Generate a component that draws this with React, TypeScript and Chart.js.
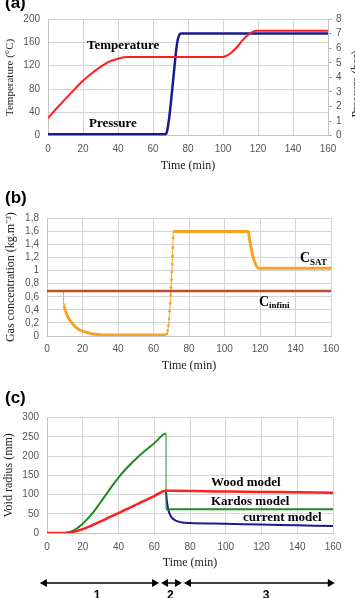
import React, { useEffect, useRef } from 'react';
import { Chart, registerables } from 'chart.js';
Chart.register(...registerables);

const SANS = '"Liberation Sans", Arial, sans-serif';
const SERIF = '"Liberation Serif", "Times New Roman", serif';
const GRID = '#d4d4d4';
const TICK = '#555555';

// ---- Panel (a) ----
const tempTime = [0, 5, 10, 15, 20, 25, 30, 35, 40, 45, 50, 100, 102, 105, 108, 111, 114, 117, 119, 160];
const tempValue = [30, 47, 63, 79, 94, 107, 118, 127, 132, 135, 135, 135, 137, 143, 152, 163, 172, 178, 180, 180];
const pressTime = [0, 67, 68, 69, 70, 71, 72, 73, 74, 75, 76, 160];
const pressValue = [0.1, 0.1, 0.3, 1.0, 2.0, 3.2, 4.4, 5.6, 6.5, 6.9, 7.0, 7.0];

// ---- Panel (b) ----
const concTime = [9.3, 9.3, 10, 11, 12, 14, 16, 18, 20, 23, 26, 30, 40, 67, 67.5, 68, 68.4, 68.8, 69.1, 69.4, 69.7, 69.9, 70.1, 70.3, 70.5, 70.7, 70.85, 71, 71.1, 113.4, 114, 115, 116, 117, 118, 119, 120, 160];
const concValue = [0.69, 0.48, 0.42, 0.34, 0.28, 0.2, 0.14, 0.1, 0.075, 0.05, 0.03, 0.02, 0.015, 0.015, 0.03, 0.08, 0.16, 0.26, 0.38, 0.5, 0.62, 0.74, 0.86, 0.98, 1.1, 1.22, 1.35, 1.5, 1.6, 1.6, 1.5, 1.35, 1.22, 1.13, 1.07, 1.04, 1.035, 1.035];
const cinfTime = [0, 160];
const cinfValue = [0.69, 0.69];

// ---- Panel (c) ----
const woodTime = [0, 10, 15, 20, 25, 30, 35, 40, 45, 50, 55, 60, 66.5, 70, 100, 130, 160];
const woodValue = [0, 0, 3, 10, 19.5, 30, 41, 52, 63, 74, 85, 96, 110, 110, 108, 106.5, 105];
const kardosTime = [0, 10, 15, 20, 25, 30, 35, 40, 45, 50, 55, 60, 66.6, 66.6, 100, 160];
const kardosValue = [0, 0, 7, 24, 49, 80, 113, 144, 171, 194, 214.5, 233.5, 258.6, 62, 62, 61.5];
const currentTime = [66.6, 67, 67.5, 68, 69, 70, 72, 75, 80, 100, 120, 140, 160];
const currentValue = [108, 85, 70, 58, 46, 39, 32, 28, 26, 24, 22, 20, 18];

const phaseStart = [-4, 63.8, 76.6];
const phaseEnd = [62.7, 75.5, 161];
const phaseLabel = ['1', '2', '3'];
const phaseLabelAt = [28, 69, 122.5];

const pts = (xs: number[], ys: number[]) => xs.map((x, i) => ({ x, y: ys[i] }));

type Note = { text: string; sub?: string; x: number; y: number; axis?: string };

function notesPlugin(panel: string, panelY: number, notes: Note[], extra?: (c: any) => void) {
  return {
    id: 'notes' + panel,
    afterDraw(chart: any) {
      const ctx = chart.ctx;
      ctx.save();
      ctx.fillStyle = '#000';
      ctx.textBaseline = 'middle';
      ctx.textAlign = 'left';
      ctx.font = 'bold 17px ' + SANS;
      ctx.fillText(panel, 5, panelY);
      for (const n of notes) {
        const xs = chart.scales.x;
        const ys = chart.scales[n.axis || 'y'];
        const px = xs.getPixelForValue(n.x);
        const py = ys.getPixelForValue(n.y);
        if (n.sub) {
          ctx.font = 'bold 14px ' + SERIF;
          ctx.fillText(n.text, px, py);
          const w = ctx.measureText(n.text).width;
          ctx.font = 'bold 9px ' + SERIF;
          ctx.fillText(n.sub, px + w, py + 4);
        } else {
          ctx.font = 'bold 13px ' + SERIF;
          ctx.fillText(n.text, px, py);
        }
      }
      if (extra) extra(chart);
      ctx.restore();
    },
  };
}

function xScale(h: number, titlePad: number, tickPad: number) {
  return {
    type: 'linear',
    min: 0,
    max: 160,
    ticks: { stepSize: 20, autoSkip: false, padding: tickPad, font: { family: SANS, size: 10 }, color: TICK, maxRotation: 0 },
    grid: { color: GRID, drawTicks: false },
    border: { color: '#c4c4c4' },
    title: { display: true, text: 'Time (min)', font: { family: SERIF, size: 12 }, color: '#222', padding: { top: 0, bottom: titlePad } },
    afterFit: (s: any) => { s.height = h; },
  };
}

function yScale(min: number, max: number, step: number, title: string, titleSize: number, titleX: number, w: number, fmt?: (v: number) => string) {
  const lh = titleSize * 1.2;
  return {
    type: 'linear',
    position: 'left',
    min,
    max,
    ticks: { stepSize: step, autoSkip: false, padding: 8, font: { family: SANS, size: 10 }, color: TICK, callback: fmt ? (v: any) => fmt(v) : undefined },
    grid: { color: GRID, drawTicks: false },
    border: { color: '#c4c4c4' },
    title: { display: true, text: title, font: { family: SERIF, size: titleSize }, color: '#222', padding: { top: titleX - lh / 2, bottom: 0 } },
    afterFit: (s: any) => { s.width = w; },
  };
}

export default function App() {
  const ra = useRef<HTMLCanvasElement>(null);
  const rb = useRef<HTMLCanvasElement>(null);
  const rc = useRef<HTMLCanvasElement>(null);

  useEffect(() => {
    const common = { responsive: false, animation: false, plugins: { legend: { display: false }, tooltip: { enabled: false } } };

    const ca = new Chart(ra.current as any, {
      type: 'line',
      data: {
        datasets: [
          { data: pts(tempTime, tempValue), borderColor: '#ff1f1f', borderWidth: 2, pointRadius: 0, cubicInterpolationMode: 'monotone', yAxisID: 'y' },
          { data: pts(pressTime, pressValue), borderColor: '#1a1a8f', borderWidth: 2.5, pointRadius: 0, cubicInterpolationMode: 'monotone', yAxisID: 'y1' },
        ],
      },
      options: {
        ...common,
        layout: { padding: { top: 19, left: 0, right: 0, bottom: 0 } },
        scales: {
          x: xScale(54.3, 16.8, 8),
          y: yScale(0, 200, 40, 'Temperature (°C)', 11, 10, 48),
          y1: {
            type: 'linear', position: 'right', min: 0, max: 8,
            ticks: { stepSize: 1, autoSkip: false, padding: 4, font: { family: SANS, size: 10 }, color: TICK },
            grid: { drawOnChartArea: false, tickLength: 4, color: '#aaaaaa' },
            border: { color: '#c4c4c4' },
            afterFit: (s: any) => { s.width = 27; },
          },
        },
      } as any,
      plugins: [notesPlugin('(a)', 3, [
        { text: 'Temperature', x: 22.3, y: 153.7 },
        { text: 'Pressure', x: 23.4, y: 20 },
      ], (chart: any) => {
        const ctx = chart.ctx;
        ctx.save();
        ctx.translate(357, 84);
        ctx.rotate(-Math.PI / 2);
        ctx.font = '12px ' + SERIF;
        ctx.fillStyle = '#222';
        ctx.textAlign = 'center';
        ctx.textBaseline = 'middle';
        ctx.fillText('Pressure (bar)', 0, 0);
        ctx.restore();
      })],
    } as any);

    const inRise = (x: number) => x > 67.2 && x < 71.05;
    const cb = new Chart(rb.current as any, {
      type: 'line',
      data: {
        datasets: [
          { data: pts(cinfTime, cinfValue), borderColor: '#b5502a', borderWidth: 2.5, pointRadius: 0 },
          {
            data: pts(concTime, concValue), borderColor: '#f7a325', backgroundColor: '#f7a325', borderWidth: 3,
            pointRadius: (c: any) => (c.raw && inRise(c.raw.x) ? 1.4 : 0), pointBorderWidth: 0,
            cubicInterpolationMode: 'monotone',
            segment: {
              borderWidth: (c: any) => {
                const a = c.p0.parsed, b = c.p1.parsed;
                if (a.x === b.x) return 1;
                if (inRise(b.x) || (inRise(a.x) && b.x < 71.2)) return 1;
                return 3;
              },
            },
          },
        ],
      },
      options: {
        ...common,
        layout: { padding: { top: 28.3, left: 0, right: 24, bottom: 0 } },
        scales: {
          x: xScale(49, 11.8, 7),
          y: yScale(0, 1.8, 0.2, 'Gas concentration (kg.m⁻³)', 12, 10.7, 47, (v: number) => String(Math.round(v * 10) / 10).replace('.', ',')),
        },
      } as any,
      plugins: [notesPlugin('(b)', 8.7, [
        { text: 'C', sub: 'SAT', x: 142.5, y: 1.19 },
        { text: 'C', sub: 'infini', x: 119.4, y: 0.52 },
      ])],
    } as any);

    const cc = new Chart(rc.current as any, {
      type: 'line',
      data: {
        datasets: [
          { data: pts(woodTime, woodValue), borderColor: '#ff1f1f', borderWidth: 2.5, pointRadius: 0, cubicInterpolationMode: 'monotone' },
          {
            data: pts(kardosTime, kardosValue), borderColor: '#1f8a1f', borderWidth: 2, pointRadius: 0, cubicInterpolationMode: 'monotone',
            segment: { borderWidth: (c: any) => (c.p0.parsed.x === c.p1.parsed.x ? 1 : 2) },
          },
          { data: pts(currentTime, currentValue), borderColor: '#1c1c8c', borderWidth: 2, pointRadius: 0, cubicInterpolationMode: 'monotone' },
        ],
      },
      options: {
        ...common,
        layout: { padding: { top: 32.7, left: 0, right: 22, bottom: 0 } },
        scales: {
          x: xScale(65, 27.5, 8),
          y: yScale(0, 300, 50, 'Void radius (mm)', 12, 9, 47),
        },
      } as any,
      plugins: [notesPlugin('(c)', 13.5, [
        { text: 'Wood model', x: 91.7, y: 130 },
        { text: 'Kardos model', x: 91.7, y: 80.7 },
        { text: 'current model', x: 109.6, y: 39 },
      ], (chart: any) => {
        const ctx = chart.ctx;
        const xs = chart.scales.x;
        const y = chart.chartArea.bottom + 50;
        ctx.save();
        ctx.strokeStyle = '#000';
        ctx.fillStyle = '#000';
        ctx.lineWidth = 1.5;
        const head = (x: number, dir: number) => {
          ctx.beginPath();
          ctx.moveTo(x, y);
          ctx.lineTo(x - dir * 7, y - 4);
          ctx.lineTo(x - dir * 7, y + 4);
          ctx.closePath();
          ctx.fill();
        };
        for (let i = 0; i < phaseStart.length; i++) {
          const a = xs.getPixelForValue(phaseStart[i]);
          const b = xs.getPixelForValue(phaseEnd[i]);
          ctx.beginPath();
          ctx.moveTo(a + 3, y);
          ctx.lineTo(b - 3, y);
          ctx.stroke();
          head(a, -1);
          head(b, 1);
          ctx.font = 'bold 12px ' + SANS;
          ctx.textAlign = 'center';
          ctx.textBaseline = 'top';
          ctx.fillText(phaseLabel[i], xs.getPixelForValue(phaseLabelAt[i]), y + 7);
        }
        ctx.restore();
      })],
    } as any);

    return () => { ca.destroy(); cb.destroy(); cc.destroy(); };
  }, []);

  const pos = (top: number): React.CSSProperties => ({ position: 'absolute', left: 0, top, display: 'block' });
  return (
    <div style={{ position: 'absolute', left: 0, top: 0, width: 355, height: 598, background: '#fff', overflow: 'hidden' }}>
      <canvas ref={ra} width={355} height={190} style={pos(0)} />
      <canvas ref={rb} width={355} height={195} style={pos(190)} />
      <canvas ref={rc} width={355} height={213} style={pos(385)} />
    </div>
  );
}
